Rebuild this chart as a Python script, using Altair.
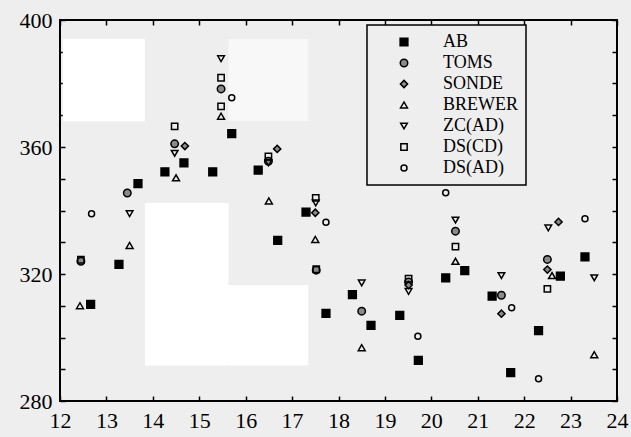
import altair as alt
import pandas as pd

series_order = ["AB", "TOMS", "SONDE", "BREWER", "ZC(AD)", "DS(CD)", "DS(AD)"]

ab_x = [12.66, 13.27, 13.68, 14.26, 14.67, 15.29, 15.70, 16.27, 16.69, 17.30, 17.73, 18.30, 18.70, 19.32, 19.72, 20.31, 20.72, 21.31, 21.71, 22.31, 22.78, 23.31]
ab_y = [310.4, 323.0, 348.5, 352.2, 355.0, 352.2, 364.2, 352.7, 330.6, 339.5, 307.6, 313.5, 303.8, 307.0, 292.8, 318.8, 321.1, 313.0, 288.9, 302.2, 319.3, 325.4]

toms_x = [12.45, 13.45, 14.47, 15.47, 16.49, 17.52, 18.50, 19.51, 20.52, 21.51, 22.50]
toms_y = [324.0, 345.5, 361.0, 378.3, 355.5, 321.2, 308.3, 317.5, 333.5, 313.3, 324.6]

sonde_x = [14.69, 16.68, 17.50, 19.51, 21.51, 22.50, 22.74]
sonde_y = [360.3, 359.4, 339.3, 316.5, 307.5, 321.4, 336.4]

brewer_x = [12.43, 13.50, 14.50, 15.47, 16.50, 17.50, 18.50, 20.52, 22.60, 23.51]
brewer_y = [310.0, 329.0, 350.3, 369.7, 343.0, 330.9, 296.8, 324.0, 319.5, 294.6]

zcad_x = [13.50, 14.47, 15.47, 16.49, 17.51, 18.50, 19.51, 20.52, 21.51, 22.52, 23.51]
zcad_y = [339.0, 358.0, 387.8, 355.0, 342.4, 317.2, 314.5, 337.0, 319.5, 334.5, 318.8]

dscd_x = [12.45, 14.47, 15.47, 15.47, 16.49, 17.51, 17.52, 19.51, 20.52, 22.50]
dscd_y = [324.5, 366.5, 381.8, 372.8, 357.0, 344.0, 321.5, 318.5, 328.6, 315.3]

dsad_x = [12.68, 15.70, 17.73, 19.71, 20.31, 21.73, 22.31, 23.31]
dsad_y = [339.0, 375.5, 336.3, 300.4, 345.6, 309.4, 287.0, 337.4]

x_ticks = list(range(12, 25))
y_ticks = list(range(280, 401, 10))

# blank (scan) patches in the original figure, in data units
patch_x = [12.06, 15.63, 13.83, 15.63]
patch_x2 = [13.83, 17.35, 15.63, 17.35]
patch_y = [368.1, 368.1, 291.2, 291.2]
patch_y2 = [394.0, 394.0, 342.4, 316.5]
patch_c = ["#ffffff", "#f8f8f8", "#ffffff", "#ffffff"]

rows = []
for name, xs, ys in [("AB", ab_x, ab_y), ("TOMS", toms_x, toms_y), ("SONDE", sonde_x, sonde_y),
                     ("BREWER", brewer_x, brewer_y), ("ZC(AD)", zcad_x, zcad_y),
                     ("DS(CD)", dscd_x, dscd_y), ("DS(AD)", dsad_x, dsad_y)]:
    for a, b in zip(xs, ys):
        rows.append({"series": name, "x": a, "y": b})
df = pd.DataFrame(rows)
patches = pd.DataFrame({"x": patch_x, "x2": patch_x2, "y": patch_y, "y2": patch_y2, "c": patch_c})

xscale = alt.Scale(domain=[12, 24], nice=False, zero=False)
yscale = alt.Scale(domain=[280, 400], nice=False, zero=False)

FONT = "Liberation Serif"

rect_layer = alt.Chart(patches).mark_rect().encode(
    x=alt.X("x:Q", scale=xscale, axis=alt.Axis(orient="bottom", values=x_ticks, offset=-5, tickSize=5,
                                               labelPadding=9, domain=False, grid=False, title=None,
                                               labelFont=FONT, labelFontSize=22, labelColor="black",
                                               tickColor="black", tickWidth=1.5, labelFlush=False)),
    x2="x2:Q",
    y=alt.Y("y:Q", scale=yscale, axis=alt.Axis(orient="left", values=y_ticks, offset=-5, tickSize=5,
                                               labelPadding=8, domain=False, grid=False, title=None,
                                               labelFont=FONT, labelFontSize=22, labelColor="black",
                                               tickColor="black", tickWidth=1.5, labelFlush=False,
                                               labelExpr="datum.value % 40 == 0 ? datum.label : ''")),
    y2="y2:Q",
    color=alt.Color("c:N", scale=None),
)

legend_common = dict(
    orient="none", legendX=307, legendY=5, title=None, padding=8,
    symbolOffset=20, labelOffset=30, rowPadding=3,
    labelFont=FONT, labelFontSize=18, labelColor="black",
    strokeColor="black", fillColor="#eeeeee", symbolStrokeWidth=1.5,
)

points = alt.Chart(df).mark_point(filled=False, strokeWidth=1.5, opacity=1).encode(
    x=alt.X("x:Q", scale=xscale, axis=alt.Axis(orient="top", values=x_ticks, offset=-5, tickSize=5,
                                               labels=False, domain=False, grid=False, title=None,
                                               tickColor="black", tickWidth=1.5)),
    y=alt.Y("y:Q", scale=yscale, axis=alt.Axis(orient="right", values=y_ticks, offset=-5, tickSize=5,
                                               labels=False, domain=False, grid=False, title=None,
                                               tickColor="black", tickWidth=1.5)),
    shape=alt.Shape("series:N", scale=alt.Scale(
        domain=series_order,
        range=["square", "circle", "diamond", "triangle-up", "triangle-down", "square", "circle"]),
        legend=alt.Legend(**legend_common)),
    fill=alt.Fill("series:N", scale=alt.Scale(
        domain=series_order,
        range=["black", "#8a8a8a", "#8a8a8a", "transparent", "transparent", "transparent", "transparent"])),
    stroke=alt.Stroke("series:N", scale=alt.Scale(domain=series_order, range=["black"] * 7)),
    size=alt.Size("series:N", scale=alt.Scale(domain=series_order, range=[60, 36, 36, 36, 36, 40, 36])),
)

chart = alt.layer(rect_layer, points).resolve_axis(x="independent", y="independent").properties(
    width=557, height=381,
    autosize=alt.AutoSizeParams(type="none"),
    padding={"left": 60, "top": 20, "right": 14, "bottom": 36},
    background="#eeeeee",
).configure_view(stroke="black", strokeWidth=2, fill="#eeeeee").configure_legend(strokeWidth=1.5)

chart.save("out.html", embed_options={"renderer": "svg", "actions": False})
